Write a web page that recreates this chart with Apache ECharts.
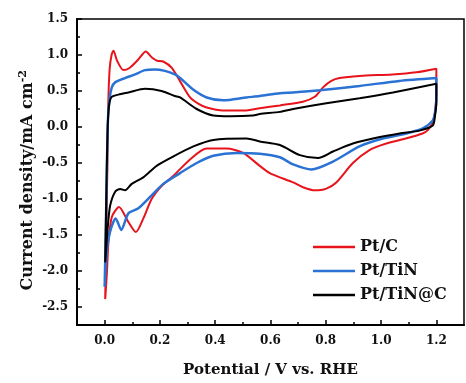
<!DOCTYPE html>
<html><head><meta charset="utf-8">
<script src="https://cdn.jsdelivr.net/npm/echarts@6/dist/echarts.min.js"></script>
<style>html,body{margin:0;padding:0;background:#fff}#c{width:466px;height:383px}</style>
</head><body><div id="c"></div>
<script>
// Pt/C loop (potential V, current mA cm-2)
var ptcPotential = [0.002,0.006,0.010,0.013,0.018,0.025,0.032,0.045,0.068,0.09,0.12,0.149,0.17,0.19,0.212,0.243,0.275,0.309,0.34,0.369,0.428,0.513,0.561,0.634,0.717,0.76,0.79,0.82,0.85,0.922,1.04,1.128,1.2,1.2,1.195,1.185,1.17,1.15,1.09,1.019,0.958,0.898,0.838,0.80,0.76,0.72,0.682,0.597,0.561,0.501,0.441,0.369,0.309,0.248,0.206,0.17,0.14,0.113,0.086,0.052,0.026,0.014,0.008,0.002];
var ptcCurrent   = [-2.39,-1.5,-0.5,0.3,0.8,1.0,1.06,0.92,0.79,0.82,0.93,1.05,0.97,0.92,0.91,0.82,0.62,0.41,0.32,0.27,0.23,0.23,0.26,0.30,0.35,0.42,0.55,0.64,0.68,0.71,0.73,0.76,0.81,0.5,0.2,0.05,-0.04,-0.09,-0.16,-0.23,-0.32,-0.5,-0.77,-0.86,-0.88,-0.84,-0.77,-0.64,-0.54,-0.36,-0.30,-0.30,-0.45,-0.68,-0.82,-1.0,-1.27,-1.46,-1.32,-1.11,-1.25,-1.59,-2.04,-2.39];
// Pt/TiN loop
var tinPotential = [0.0,0.004,0.008,0.012,0.018,0.026,0.038,0.074,0.11,0.146,0.18,0.218,0.254,0.273,0.32,0.369,0.429,0.513,0.561,0.634,0.682,0.778,0.922,1.066,1.2,1.2,1.195,1.187,1.151,1.09,1.006,0.922,0.826,0.748,0.682,0.634,0.561,0.477,0.393,0.333,0.273,0.212,0.17,0.122,0.086,0.06,0.04,0.02,0.008,0.0];
var tinCurrent   = [-2.22,-1.5,-0.6,0.1,0.4,0.55,0.62,0.68,0.73,0.79,0.80,0.78,0.73,0.68,0.52,0.41,0.37,0.41,0.43,0.47,0.48,0.51,0.57,0.64,0.68,0.4,0.2,0.09,-0.02,-0.09,-0.16,-0.27,-0.48,-0.59,-0.52,-0.42,-0.37,-0.36,-0.40,-0.50,-0.64,-0.79,-0.95,-1.13,-1.2,-1.43,-1.27,-1.45,-1.72,-2.22];
// Pt/TiN@C loop
var tincPotential = [0.002,0.005,0.008,0.012,0.018,0.026,0.05,0.086,0.146,0.206,0.254,0.273,0.333,0.393,0.453,0.537,0.561,0.634,0.682,0.802,0.922,1.043,1.2,1.2,1.195,1.187,1.139,1.067,0.983,0.898,0.826,0.772,0.706,0.634,0.561,0.513,0.393,0.321,0.248,0.188,0.14,0.098,0.074,0.056,0.038,0.02,0.012,0.002];
var tincCurrent   = [-1.88,-1.2,-0.5,0.1,0.35,0.42,0.45,0.48,0.53,0.5,0.43,0.41,0.25,0.16,0.15,0.16,0.18,0.21,0.25,0.33,0.40,0.48,0.60,0.35,0.15,0.02,-0.05,-0.09,-0.15,-0.23,-0.34,-0.43,-0.39,-0.25,-0.2,-0.16,-0.18,-0.27,-0.41,-0.54,-0.70,-0.79,-0.88,-0.86,-0.90,-1.09,-1.36,-1.88];

var seriesNames = ['Pt/C','Pt/TiN','Pt/TiN@C'];
var xMajor = [0,0.2,0.4,0.6,0.8,1.0,1.2];
var xMinor = [0.1,0.3,0.5,0.7,0.9,1.1];
var yMajor = [-2.5,-2,-1.5,-1,-0.5,0,0.5,1,1.5];
var yMinor = [-2.25,-1.75,-1.25,-0.75,-0.25,0.25,0.75,1.25];

function pairs(xs, ys){ return xs.map(function(x,i){ return [x, ys[i]]; }); }

var FONT = '"DejaVu Serif", "Liberation Serif", serif';
var chart = echarts.init(document.getElementById('c'), null, {renderer:'canvas'});
var baseX = {type:'value', min:-0.1, max:1.3, splitLine:{show:false}};
var baseY = {type:'value', min:-2.75, max:1.5, splitLine:{show:false}};
chart.setOption({
  animation:false,
  backgroundColor:'#fff',
  grid:{left:77, right:2, top:19, bottom:51, show:true, borderColor:'#000', borderWidth:1.5},
  legend:{
    data:seriesNames, orient:'vertical', left:308, top:234,
    icon:'rect', itemWidth:42, itemHeight:2.5, itemGap:8,
    textStyle:{fontFamily:FONT, fontWeight:'bold', fontSize:16, color:'#111'}
  },
  graphic:[{
    type:'text', left:18, top:70, rotation:Math.PI/2, silent:true,
    style:{
      text:'Current density/mA cm{sup|-2}',
      font:'bold 16px ' + FONT, fill:'#111',
      rich:{sup:{fontFamily:FONT, fontWeight:'bold', fontSize:11, fill:'#111', verticalAlign:'top', padding:[0,0,9,0]}}
    }
  }],
  xAxis:[
    Object.assign({}, baseX, {
      position:'bottom',
      axisLine:{show:true, onZero:false, lineStyle:{color:'#000', width:2}},
      axisTick:{show:true, inside:true, length:5, customValues:xMajor, lineStyle:{color:'#000', width:1.5}},
      axisLabel:{customValues:xMajor, formatter:function(v){return v.toFixed(1);}, margin:10,
        fontFamily:FONT, fontWeight:'bold', fontSize:12, color:'#111'},
      name:'Potential / V vs. RHE', nameLocation:'middle', nameGap:38,
      nameTextStyle:{fontFamily:FONT, fontWeight:'bold', fontSize:15, color:'#111'}
    }),
    Object.assign({}, baseX, {
      position:'bottom',
      axisLine:{show:false, onZero:false},
      axisTick:{show:true, inside:true, length:3, customValues:xMinor, lineStyle:{color:'#000', width:1.5}},
      axisLabel:{show:false}
    })
  ],
  yAxis:[
    Object.assign({}, baseY, {
      position:'left',
      axisLine:{show:true, onZero:false, lineStyle:{color:'#000', width:2}},
      axisTick:{show:true, inside:true, length:5, customValues:yMajor, lineStyle:{color:'#000', width:1.5}},
      axisLabel:{customValues:yMajor, formatter:function(v){return v.toFixed(1);}, margin:9,
        fontFamily:FONT, fontWeight:'bold', fontSize:12, color:'#111'}
    }),
    Object.assign({}, baseY, {
      position:'left',
      axisLine:{show:false, onZero:false},
      axisTick:{show:true, inside:true, length:3, customValues:yMinor, lineStyle:{color:'#000', width:1.5}},
      axisLabel:{show:false}
    })
  ],
  series:[
    {name:'Pt/C', type:'line', data:pairs(ptcPotential, ptcCurrent), symbol:'none', smooth:0.25,
      lineStyle:{color:'#e8141c', width:2}, itemStyle:{color:'#e8141c'}},
    {name:'Pt/TiN', type:'line', data:pairs(tinPotential, tinCurrent), symbol:'none', smooth:0.25,
      lineStyle:{color:'#2a72d4', width:2.5}, itemStyle:{color:'#2a72d4'}},
    {name:'Pt/TiN@C', type:'line', data:pairs(tincPotential, tincCurrent), symbol:'none', smooth:0.25,
      lineStyle:{color:'#000', width:2}, itemStyle:{color:'#000'}}
  ]
});
</script></body></html>
